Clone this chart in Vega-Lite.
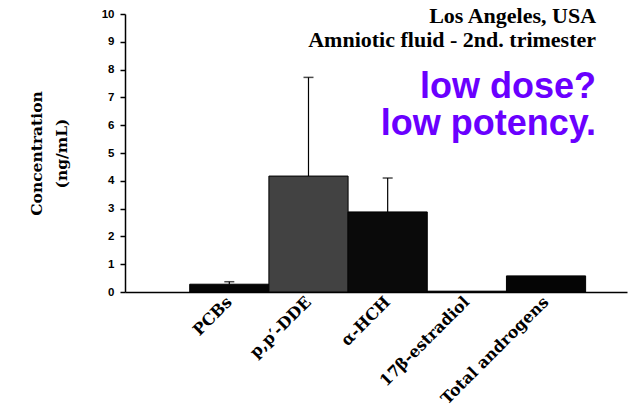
{
  "$schema": "https://vega.github.io/schema/vega-lite/v6.json",
  "autosize": "none",
  "width": 502,
  "height": 278,
  "padding": {"left": 125, "top": 14, "right": 6, "bottom": 126},
  "background": "white",
  "config": {
    "view": {"stroke": null},
    "axisY": {
      "grid": false,
      "titleFont": "DejaVu Serif",
      "titleFontWeight": "bold",
      "titleFontSize": 15.5,
      "titleLineHeight": 25,
      "titleColor": "black",
      "titlePadding": 32,
      "labelFont": "Liberation Sans",
      "labelFontWeight": "bold",
      "labelFontSize": 11.5,
      "labelColor": "black",
      "labelPadding": 6,
      "tickColor": "black",
      "tickSize": 5,
      "tickWidth": 1.5,
      "domainColor": "black",
      "domainWidth": 1.5
    }
  },
  "datasets": {
    "bars": [
      {"compound": "PCBs", "conc": 0.28, "upper": 0.37},
      {"compound": "p,p′-DDE", "conc": 4.17, "upper": 7.72},
      {"compound": "α-HCH", "conc": 2.88, "upper": 4.1},
      {"compound": "17β-estradiol", "conc": 0.03, "upper": null},
      {"compound": "Total androgens", "conc": 0.58, "upper": null}
    ],
    "notes": [
      {"compound": "Total androgens", "y": 9.68, "text": "Los Angeles, USA", "kind": "place"},
      {"compound": "Total androgens", "y": 8.82, "text": "Amniotic fluid - 2nd. trimester", "kind": "place"},
      {"compound": "Total androgens", "y": 6.98, "text": "low dose?", "kind": "comment"},
      {"compound": "Total androgens", "y": 5.65, "text": "low potency.", "kind": "comment"}
    ]
  },
  "encoding": {
    "x": {
      "field": "compound",
      "type": "nominal",
      "sort": ["PCBs", "p,p′-DDE", "α-HCH", "17β-estradiol", "Total androgens"],
      "scale": {"paddingInner": 0, "paddingOuter": 0.67, "align": 0.61},
      "axis": {
        "title": null,
        "labelAngle": -45,
        "labelAlign": "right",
        "labelBaseline": "middle",
        "labelFont": "DejaVu Serif",
        "labelFontWeight": "bold",
        "labelFontSize": 16,
        "labelColor": "black",
        "labelPadding": 7,
        "labelOverlap": false,
        "ticks": false,
        "domainColor": "black",
        "domainWidth": 1.5
      }
    },
    "y": {
      "field": "conc",
      "type": "quantitative",
      "scale": {"domain": [0, 10], "nice": false},
      "axis": {"title": ["Concentration", "(ng/mL)"], "tickCount": 10, "labelOverlap": false}
    }
  },
  "layer": [
    {
      "data": {"name": "bars"},
      "mark": {"type": "bar", "stroke": "black", "strokeWidth": 1},
      "encoding": {
        "color": {
          "field": "compound",
          "type": "nominal",
          "legend": null,
          "scale": {
            "domain": ["PCBs", "p,p′-DDE", "α-HCH", "17β-estradiol", "Total androgens"],
            "range": ["#050505", "#424242", "#0a0a0a", "#050505", "#050505"]
          }
        }
      }
    },
    {
      "data": {"name": "bars"},
      "transform": [{"filter": "datum.upper != null"}],
      "mark": {"type": "rule", "color": "black", "strokeWidth": 1.2},
      "encoding": {
        "y2": {"field": "upper"}
      }
    },
    {
      "data": {"name": "bars"},
      "transform": [{"filter": "datum.upper != null"}],
      "mark": {"type": "tick", "color": "black", "size": 10, "thickness": 1.5, "orient": "horizontal"},
      "encoding": {
        "y": {"field": "upper", "type": "quantitative"}
      }
    },
    {
      "data": {"name": "notes"},
      "transform": [{"filter": "datum.kind == 'place'"}],
      "mark": {"type": "text", "align": "right", "baseline": "alphabetic", "dx": 50, "font": "Liberation Serif", "fontWeight": "bold", "fontSize": 22, "color": "black"},
      "encoding": {
        "y": {"field": "y", "type": "quantitative"},
        "text": {"field": "text"}
      }
    },
    {
      "data": {"name": "notes"},
      "transform": [{"filter": "datum.kind == 'comment'"}],
      "mark": {"type": "text", "align": "right", "baseline": "alphabetic", "dx": 50, "font": "Liberation Sans", "fontWeight": "bold", "fontSize": 36, "color": "#6a00ff"},
      "encoding": {
        "y": {"field": "y", "type": "quantitative"},
        "text": {"field": "text"}
      }
    }
  ]
}
